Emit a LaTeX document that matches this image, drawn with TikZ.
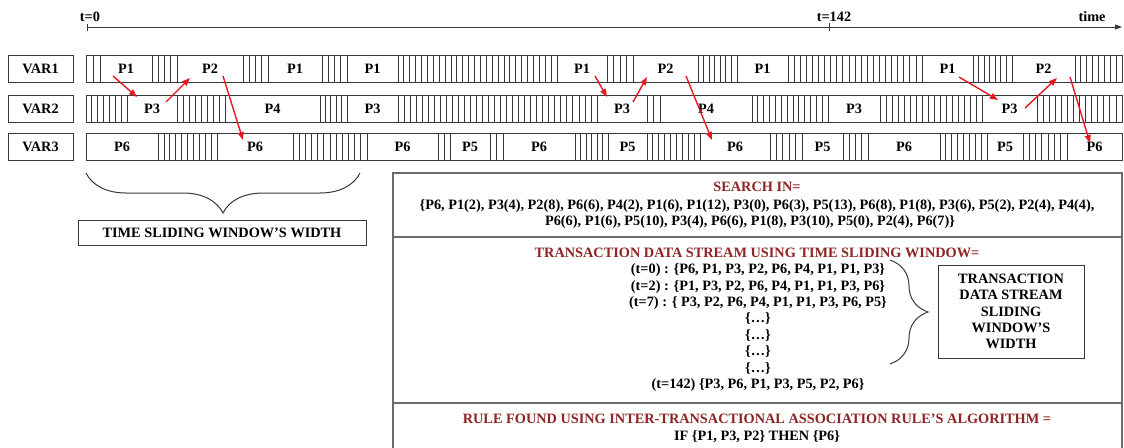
\documentclass[tikz,border=0pt]{standalone}
\usepackage{fontspec}
\setmainfont{Liberation Serif}
\usetikzlibrary{positioning,arrows.meta,calc,decorations.pathreplacing}
\definecolor{ink}{HTML}{383838}
\definecolor{frame}{HTML}{6B6B6B}
\definecolor{linkred}{HTML}{E3191F}
\definecolor{headred}{HTML}{8E2424}

\begin{document}
\begin{tikzpicture}[x=1pt, y=-1pt,
    font=\fontsize{14.3}{16.4}\selectfont\bfseries,
    varbox/.style={draw=ink, line width=0.9pt, minimum width=65pt, minimum height=27pt, inner sep=0pt},
    seg/.style={draw=ink, line width=0.9pt, minimum height=27pt, inner sep=0pt, outer sep=0pt},
    hatch/.style={draw=ink, line width=0.8pt},
    link/.style={-{Triangle[length=8pt,width=6pt]}, line width=1.4pt, draw=linkred},
    axis/.style={draw=ink, line width=0.8pt},
    panel/.style={draw=frame, line width=1.6pt},
    curly/.style={draw=ink, line width=1pt, decorate},
    txt/.style={anchor=base, inner sep=0pt},
    head/.style={txt, text=headred}
]
    \useasboundingbox (0,0) rectangle (1124,447);

    % time axis
    \coordinate (t0) at (87,27);
    \coordinate (t142) at (829,27);
    \coordinate (tend) at (1122,27);
    \draw[axis, -{Triangle[length=7pt,width=5pt]}] (t0) -- (tend);
    \draw[axis] (t0) ++(0,-3) -- ++(0,7);
    \draw[axis] (t142) ++(0,-4) -- ++(0,8);
    \node (lt0) at (90,17) {t=0};
    \node (lt142) at (834,17) {t=142};
    \node (ltime) at (1092,17) {time};

    % variable labels
    \node[varbox] (var1) at (40.5,68.5) {VAR1};
    \node[varbox] (var2) at (40.5,108.5) {VAR2};
    \node[varbox] (var3) at (40.5,146.5) {VAR3};

    % VAR1 row
    \draw[hatch] (86,55) rectangle (1122,82);
    \foreach \xa/\xb in {86/100,152/177,243/268,322/347,398/557,607/633,698/737,788/922,973/1012,1075/1122} {
        \pgfmathtruncatemacro\hn{max(1,round((\xb-\xa)/6))}
        \foreach \k in {0,...,\hn} \draw[hatch] ({\xa+\k*(\xb-\xa)/\hn},55) -- ++(0,27);
    }
    \foreach \nm/\xa/\xb/\lab in {v1a/100/152/P1,v1b/177/243/P2,v1c/268/322/P1,v1d/347/398/P1,v1e/557/607/P1,v1f/633/698/P2,v1g/737/788/P1,v1h/922/973/P1,v1i/1012/1075/P2}
        \node[seg, minimum width={\xb-\xa}] (\nm) at ({(\xa+\xb)/2},68.5) {\lab};

    % VAR2 row
    \draw[hatch] (86,95) rectangle (1122,122);
    \foreach \xa/\xb in {86/127,177/225,320/347,398/597,647/660,752/828,880/982,1037/1122} {
        \pgfmathtruncatemacro\hn{max(1,round((\xb-\xa)/6))}
        \foreach \k in {0,...,\hn} \draw[hatch] ({\xa+\k*(\xb-\xa)/\hn},95) -- ++(0,27);
    }
    \foreach \nm/\xa/\xb/\lab in {v2a/127/177/P3,v2b/225/320/P4,v2c/347/398/P3,v2d/597/647/P3,v2e/660/752/P4,v2f/828/880/P3,v2g/982/1037/P3}
        \node[seg, minimum width={\xb-\xa}] (\nm) at ({(\xa+\xb)/2},108.5) {\lab};

    % VAR3 row
    \draw[hatch] (86,133) rectangle (1122,160);
    \foreach \xa/\xb in {158/217,293/367,438/450,490/503,575/608,647/700,770/802,843/868,940/987,1023/1067} {
        \pgfmathtruncatemacro\hn{max(1,round((\xb-\xa)/6))}
        \foreach \k in {0,...,\hn} \draw[hatch] ({\xa+\k*(\xb-\xa)/\hn},133) -- ++(0,27);
    }
    \foreach \nm/\xa/\xb/\lab in {v3a/86/158/P6,v3b/217/293/P6,v3c/367/438/P6,v3d/450/490/P5,v3e/503/575/P6,v3f/608/647/P5,v3g/700/770/P6,v3h/802/843/P5,v3i/868/940/P6,v3j/987/1023/P5,v3k/1067/1122/P6}
        \node[seg, minimum width={\xb-\xa}] (\nm) at ({(\xa+\xb)/2},146.5) {\lab};

    % red links P1 -> P3 -> P2 -> P6
    \draw[link] ([shift={(-13,7.5)}]v1a.center) -- ([shift={(-15,-11.5)}]v2a.center);
    \draw[link] ([shift={(14,-6.5)}]v2a.center) -- ([shift={(-20,9.5)}]v1b.center);
    \draw[link] ([shift={(13,7.5)}]v1b.center) -- ([shift={(-12,-6.5)}]v3b.center);
    \draw[link] ([shift={(13,7.5)}]v1e.center) -- ([shift={(-15,-11.5)}]v2d.center);
    \draw[link] ([shift={(11,-6.5)}]v2d.center) -- ([shift={(-18.5,8.5)}]v1f.center);
    \draw[link] ([shift={(20.5,7.5)}]v1f.center) -- ([shift={(-23,-6.5)}]v3g.center);
    \draw[link] ([shift={(11.5,8.5)}]v1h.center) -- ([shift={(-11.5,-8.5)}]v2g.center);
    \draw[link] ([shift={(15.5,-0.5)}]v2g.center) -- ([shift={(13.5,9.5)}]v1i.center);
    \draw[link] ([shift={(26.5,8.5)}]v1i.center) -- ([shift={(-4.5,-3.5)}]v3k.center);

    % window brace
    \coordinate (bl) at (86,173);
    \coordinate (br) at (360,173);
    \draw[curly, decoration={brace, mirror, amplitude=40pt}] (bl) -- (br);
    \node[varbox, minimum width=288pt, minimum height=25pt] (tsw) at (222,232.5) {TIME SLIDING WINDOW'S WIDTH};

    % result panel
    \draw[panel] (393,173) rectangle (1122,470);
    \draw[panel] (393,237) -- (1122,237);
    \draw[panel] (393,403) -- (1122,403);

    \node[head] (srch) at (757,191.7) {SEARCH IN=};
    \node[txt] (srch1) at (757,209.7) {\{P6, P1(2), P3(4), P2(8), P6(6), P4(2), P1(6), P1(12), P3(0), P6(3), P5(13), P6(8), P1(8), P3(6), P5(2), P2(4), P4(4),};
    \node[txt] (srch2) at (750,225.7) {P6(6), P1(6), P5(10), P3(4), P6(6), P1(8), P3(10), P5(0), P2(4), P6(7)\}};

    \node[head] (tds) at (757,257.7) {TRANSACTION DATA STREAM USING TIME SLIDING WINDOW=};
    \foreach \ln [count=\i from 0] in {{(t=0) : \{P6, P1, P3, P2, P6, P4, P1, P1, P3\}},
            {(t=2) : \{P1, P3, P2, P6, P4, P1, P1, P3, P6\}},
            {(t=7) : \{ P3, P2, P6, P4, P1, P1, P3, P6, P5\}},
            {\{…\}}, {\{…\}}, {\{…\}}, {\{…\}},
            {(t=142) \{P3, P6, P1, P3, P5, P2, P6\}}}
        \node[txt] (tl\i) at (758,{273.7+16.4*\i}) {\ln};
    \coordinate (rbt) at (890,260);
    \coordinate (rbb) at (890,364);
    \draw[curly, decoration={brace, amplitude=38pt}] (rbt) -- (rbb);
    \node[draw=ink, line width=1pt, minimum width=146pt, minimum height=93pt, align=center] (tdsw) at (1011,311.5)
        {TRANSACTION\\DATA STREAM\\SLIDING\\WINDOW'S\\WIDTH};

    \node[head] (rule) at (757,423.7) {RULE FOUND USING INTER-TRANSACTIONAL ASSOCIATION RULE'S ALGORITHM =};
    \node[txt] (rule1) at (757,440.7) {IF \{P1, P3, P2\} THEN \{P6\}};
\end{tikzpicture}
\end{document}
